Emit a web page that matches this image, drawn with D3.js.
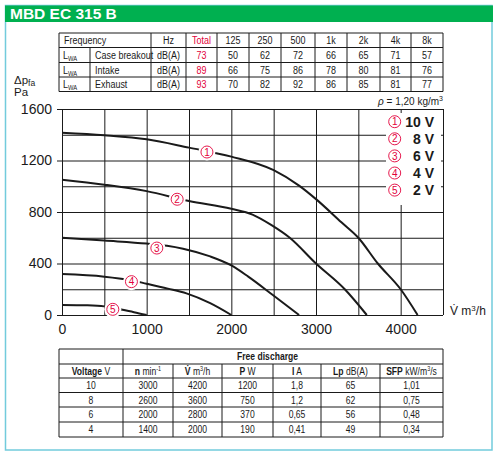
<!DOCTYPE html>
<html><head><meta charset="utf-8">
<script src="https://cdn.jsdelivr.net/npm/d3@7"></script>
<style>body{margin:0;background:#fff}svg{display:block}</style>
</head><body>
<svg id="c" width="498" height="455"></svg>
<script>
// ---------- DATA ----------
const title = "MBD EC 315 B";
const freqBands = ["125","250","500","1k","2k","4k","8k"];
const soundRows = ["Case breakout","Intake","Exhaust"];
const soundTotals = [73, 89, 93];
const caseBreakout = [50, 62, 72, 66, 65, 71, 57];
const intake = [66, 75, 86, 78, 80, 81, 76];
const exhaust = [70, 82, 92, 86, 85, 81, 77];

const flow1 = [0, 500, 1000, 1500, 2000, 2500, 2800, 3000, 3300, 3500, 3730, 4000, 4200];
const pres1 = [1415, 1396, 1365, 1300, 1230, 1125, 1005, 900, 720, 600, 400, 200, 0];
const flow2 = [0, 500, 1000, 1500, 2000, 2250, 2470, 2690, 3000, 3340, 3600];
const pres2 = [1050, 1012, 962, 885, 825, 780, 700, 600, 400, 200, 0];
const flow3 = [0, 500, 1000, 1240, 1430, 1750, 2000, 2200, 2490, 2800];
const pres3 = [600, 578, 555, 538, 515, 455, 385, 298, 155, 0];
const flow4 = [0, 500, 800, 1000, 1250, 1470, 1750, 2000];
const pres4 = [318, 298, 272, 243, 205, 168, 92, 0];
const flow5 = [0, 300, 500, 700, 850, 1000];
const pres5 = [78, 75, 67, 42, 22, 0];
const curveNames = ["1","2","3","4","5"];
const legendLabels = ["10 V","8 V","6 V","4 V","2 V"];
const labelFlow = [1712, 1360, 1120, 820, 600];
const labelPres = [1266, 899, 520, 259, 44];
const yTicks = [0, 400, 800, 1200, 1600];
const xTicks = [0, 1000, 2000, 3000, 4000];

const voltages = [10, 8, 6, 4];
const speeds = [3000, 2600, 2000, 1400];
const flows = [4200, 3600, 2800, 2000];
const powers = [1200, 750, 370, 190];
const currents = ["1,8", "1,2", "0,65", "0,41"];
const lpValues = [65, 62, 56, 49];
const sfpValues = ["1,01", "0,75", "0,48", "0,34"];

// ---------- STYLE ----------
const svg = d3.select("#c");
const SANS = "'Liberation Sans',Arial,Helvetica,sans-serif";
const SQ = 0.78; // horizontal condensing for table texts
const RED = "#e2003a";
const GREEN = "#00b050";
const FRAME = "#72cbdc";
const INK = "#1a1a1a";

function line(g, x1, y1, x2, y2, w) {
  g.append("line").attr("x1", x1).attr("y1", y1).attr("x2", x2).attr("y2", y2)
    .attr("stroke", INK).attr("stroke-width", w || 1);
}
// condensed text
function ntext(g, x, y, anchor, color) {
  return g.append("text").attr("transform", `translate(${x},${y}) scale(${SQ},1)`)
    .attr("text-anchor", anchor || "middle").attr("fill", color || INK);
}
function cell(g, x, y, txt, anchor, color) {
  return ntext(g, x, y, anchor, color).text(txt);
}

// frame + header
svg.append("rect").attr("x", 5.5).attr("y", 5.5).attr("width", 486.5).attr("height", 444.5)
  .attr("fill", "#fff").attr("stroke", FRAME).attr("stroke-width", 1.5);
svg.append("rect").attr("x", 5).attr("y", 5.5).attr("width", 488).attr("height", 16.5).attr("fill", GREEN);
svg.append("text").attr("x", 10).attr("y", 19).text(title)
  .attr("font-family", SANS).attr("font-weight", "bold").attr("font-size", 15.5).attr("fill", "#fff");

// ---------- TOP TABLE ----------
const t1 = svg.append("g").attr("font-family", SANS).attr("font-size", 11.5).attr("fill", INK);
const tc = [59, 151, 186, 217, 249, 281, 315, 347, 380, 411, 443];
const tr = [33, 47.5, 62.5, 77, 91.5];
tr.forEach(yy => line(t1, tc[0], yy, tc[tc.length - 1], yy));
tc.forEach(xx => line(t1, xx, tr[0], xx, tr[4]));
line(t1, 90, tr[1], 90, tr[4]);
const mid = i => (tc[i] + tc[i + 1]) / 2;
cell(t1, 64, tr[0] + 11, "Frequency", "start");
cell(t1, mid(1), tr[0] + 11, "Hz");
cell(t1, mid(2), tr[0] + 11, "Total", "middle", RED);
freqBands.forEach((b, i) => cell(t1, mid(3 + i), tr[0] + 11, b));
const soundVals = [caseBreakout, intake, exhaust];
soundRows.forEach((r, k) => {
  const yb = tr[k + 1] + 11;
  const L = ntext(t1, 63, yb, "start");
  L.append("tspan").text("L");
  L.append("tspan").attr("font-size", 7.5).attr("dy", 2).text("WA");
  cell(t1, 95, yb, r, "start");
  cell(t1, mid(1), yb, "dB(A)");
  cell(t1, mid(2), yb, soundTotals[k], "middle", RED);
  soundVals[k].forEach((v, i) => cell(t1, mid(3 + i), yb, v));
});

// ---------- CHART ----------
const x = d3.scaleLinear([0, 4500], [62, 443]);
const y = d3.scaleLinear([0, 1600], [315, 109]);
const W = x.range()[1] - x.range()[0];
const H = y.range()[0] - y.range()[1];
const chart = svg.append("g");

// grid
const gy = chart.append("g").attr("transform", `translate(${x(0)},0)`)
  .call(d3.axisLeft(y).tickValues(d3.range(0, 1601, 200)).tickSize(-W).tickFormat(""));
const gx = chart.append("g").attr("transform", `translate(0,${y(0)})`)
  .call(d3.axisBottom(x).tickValues(d3.range(0, 4501, 500)).tickSize(-H).tickFormat(""));
[gy, gx].forEach(g => {
  g.select(".domain").remove();
  g.selectAll("line").attr("stroke", INK).attr("stroke-width", 1);
});

// labelled axes
const ay = chart.append("g").attr("transform", `translate(${x(0)},0)`)
  .call(d3.axisLeft(y).tickValues(yTicks).tickSize(5).tickPadding(5).tickFormat(d3.format("d")));
const ax = chart.append("g").attr("transform", `translate(0,${y(0)})`)
  .call(d3.axisBottom(x).tickValues(xTicks).tickSize(0).tickPadding(9).tickFormat(d3.format("d")));
[ay, ax].forEach(g => {
  g.select(".domain").remove();
  g.selectAll("line").attr("stroke", INK);
  g.selectAll("text").attr("font-family", SANS).attr("font-size", 14).attr("fill", INK);
});

// curves
const flowsAll = [flow1, flow2, flow3, flow4, flow5];
const presAll = [pres1, pres2, pres3, pres4, pres5];
const lineGen = d3.line().x(d => x(d[0])).y(d => y(d[1])).curve(d3.curveMonotoneX);
flowsAll.forEach((f, k) => {
  const pts = f.map((q, i) => [q, presAll[k][i]]);
  chart.append("path").attr("d", lineGen(pts)).attr("fill", "none")
    .attr("stroke", INK).attr("stroke-width", 2);
});

// curve labels
function circledNum(g, cx, cy, n, gap) {
  if (gap) g.append("circle").attr("cx", cx).attr("cy", cy).attr("r", 8.5).attr("fill", "#fff");
  g.append("circle").attr("cx", cx).attr("cy", cy).attr("r", 6).attr("fill", "#fff")
    .attr("stroke", RED).attr("stroke-width", 0.9);
  g.append("text").attr("x", cx).attr("y", cy + 3.6).attr("text-anchor", "middle")
    .attr("font-family", SANS).attr("font-size", 10).attr("fill", RED).text(n);
}
curveNames.forEach((n, k) => circledNum(chart, x(labelFlow[k]), y(labelPres[k]), n, true));

// legend
chart.append("rect").attr("x", 386).attr("y", 113).attr("width", 55).attr("height", 92).attr("fill", "#fff");
legendLabels.forEach((lab, k) => {
  const cy = 121.7 + k * 17.1;
  circledNum(chart, 394.7, cy, curveNames[k], false);
  chart.append("text").attr("x", 434).attr("y", cy + 5).attr("text-anchor", "end")
    .attr("font-family", SANS).attr("font-weight", "bold").attr("font-size", 14).attr("fill", INK).text(lab);
});

// density note
const rho = chart.append("text").attr("x", 443).attr("y", 105).attr("text-anchor", "end")
  .attr("font-family", SANS).attr("font-size", 10).attr("fill", INK);
rho.append("tspan").attr("font-style", "italic").text("ρ");
rho.append("tspan").text(" = 1,20 kg/m");
rho.append("tspan").attr("font-size", 7).attr("dy", -4).text("3");

// axis titles
const yl = chart.append("text").attr("x", 14).attr("y", 84).attr("font-family", SANS).attr("font-size", 11.5).attr("fill", INK);
yl.append("tspan").text("Δp");
yl.append("tspan").attr("font-size", 8.5).attr("dy", 2).text("fa");
chart.append("text").attr("x", 14).attr("y", 96).attr("font-family", SANS).attr("font-size", 11.5).attr("fill", INK).text("Pa");
const xl = chart.append("text").attr("x", 450).attr("y", 315).attr("font-family", SANS).attr("font-size", 12).attr("fill", INK);
xl.append("tspan").text("V\u0307 m");
xl.append("tspan").attr("font-size", 8).attr("dy", -4).text("3");
xl.append("tspan").attr("dy", 4).text("/h");

// ---------- BOTTOM TABLE ----------
const t2 = svg.append("g").attr("font-family", SANS).attr("font-size", 11).attr("fill", INK);
const bc = [59, 123, 173, 222, 273, 321, 380, 443];
const br = [349, 364, 378, 392.5, 407, 422, 437];
br.forEach((yy, i) => line(t2, i === 1 ? bc[1] : bc[0], yy, bc[7], yy));
line(t2, bc[0], br[1], bc[1], br[1]);
bc.forEach((xx, i) => line(t2, xx, (i === 0 || i === 1 || i === 7) ? br[0] : br[1], xx, br[6]));
const bmid = i => (bc[i] + bc[i + 1]) / 2;
ntext(t2, 237, br[0] + 11, "start").attr("font-weight", "bold").text("Free discharge");
const heads = [["Voltage", " V"], ["n", " min", "-1"], ["V\u0307", " m", "3", "/h"], ["P", " W"], ["I", " A"], ["Lp", " dB(A)"], ["SFP", " kW/m", "3", "/s"]];
heads.forEach((h, i) => {
  const t = ntext(t2, bmid(i), br[1] + 10.5, "middle");
  t.append("tspan").attr("font-weight", "bold").text(h[0]);
  t.append("tspan").text(h[1]);
  if (h.length > 2) t.append("tspan").attr("font-size", 7).attr("dy", -3.5).text(h[2]);
  if (h.length > 3) t.append("tspan").attr("dy", 3.5).text(h[3]);
});
const cols = [voltages, speeds, flows, powers, currents, lpValues, sfpValues];
voltages.forEach((v, r) => {
  cols.forEach((c, i) => cell(t2, bmid(i), br[2 + r] + 11, c[r]));
});
</script>
</body></html>
